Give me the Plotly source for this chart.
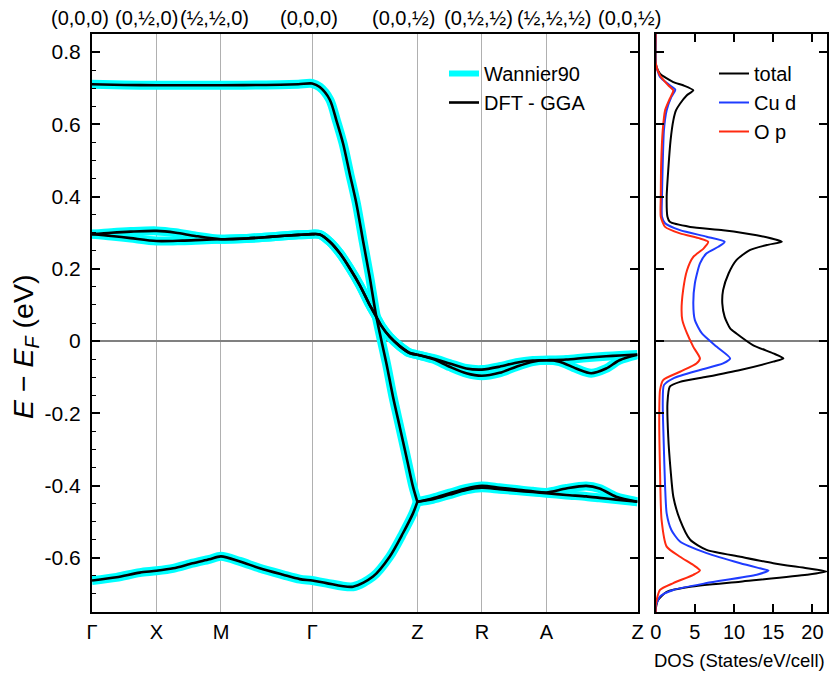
import plotly.graph_objects as go

# ---------------- data ----------------
kpath_pos = [0.0, 0.5, 1.0, 1.7071, 2.523, 3.023, 3.523, 4.230]
kpath_labels = ["Γ", "X", "M", "Γ", "Z", "R", "A", "Z"]
kpath_coords = ["(0,0,0)", "(0,½,0)", "(½,½,0)", "(0,0,0)", "(0,0,½)", "(0,½,½)", "(½,½,½)", "(0,0,½)"]

band1_k = [0.0, 0.25, 0.5, 0.75, 1.0, 1.35, 1.6, 1.7071,
           1.766, 1.844, 1.895, 1.947, 1.998, 2.050, 2.101, 2.153, 2.205, 2.283, 2.334, 2.386, 2.438, 2.489, 2.523,
           2.644, 2.773, 2.902, 3.023, 3.160, 3.290, 3.418, 3.523, 3.677, 3.832, 3.935, 4.064, 4.230]
band1_e = [0.711, 0.709, 0.708, 0.708, 0.708, 0.709, 0.711, 0.713,
           0.703, 0.668, 0.611, 0.547, 0.464, 0.381, 0.279, 0.178, 0.067, -0.062, -0.154, -0.237, -0.320, -0.403, -0.445,
           -0.435, -0.421, -0.408, -0.401, -0.406, -0.411, -0.416, -0.419, -0.408, -0.401, -0.408, -0.431, -0.445]

band2_k = [0.0, 0.19, 0.37, 0.5, 0.63, 0.78, 0.91, 1.0, 1.147, 1.301, 1.482, 1.611, 1.7071,
           1.818, 2.024, 2.179, 2.308, 2.411, 2.489, 2.523,
           2.644, 2.773, 2.902, 3.023, 3.160, 3.290, 3.418, 3.523, 3.677, 3.832, 3.935, 4.064, 4.230]
band2_e = [-0.663, -0.654, -0.641, -0.636, -0.629, -0.615, -0.604, -0.596, -0.610, -0.629, -0.647, -0.659, -0.663,
           -0.670, -0.680, -0.652, -0.597, -0.532, -0.477, -0.445,
           -0.438, -0.425, -0.412, -0.406, -0.410, -0.414, -0.418, -0.421, -0.426, -0.430, -0.434, -0.439, -0.445]

band3_k = [0.0, 0.15, 0.3, 0.5, 0.65, 0.8, 1.0, 1.2, 1.4, 1.6, 1.7071,
           1.766, 1.844, 1.922, 2.0, 2.076, 2.153, 2.205, 2.244, 2.308, 2.386, 2.463, 2.523,
           2.644, 2.773, 2.902, 3.023, 3.160, 3.290, 3.418, 3.523, 3.677, 3.832, 3.987, 4.090, 4.230]
band3_e = [0.296, 0.300, 0.303, 0.305, 0.300, 0.291, 0.282, 0.284, 0.289, 0.294, 0.296,
           0.295, 0.275, 0.243, 0.201, 0.155, 0.100, 0.067, 0.042, 0.012, -0.014, -0.033, -0.038,
           -0.048, -0.062, -0.076, -0.079, -0.071, -0.060, -0.054, -0.053, -0.051, -0.046, -0.042, -0.040, -0.037]

band4_k = [0.0, 0.15, 0.3, 0.5, 0.7, 0.85, 1.0, 1.2, 1.4, 1.6, 1.7071,
           1.766, 1.844, 1.922, 2.0, 2.076, 2.153, 2.205, 2.244, 2.308, 2.386, 2.463, 2.523,
           2.644, 2.773, 2.902, 3.023, 3.160, 3.290, 3.418, 3.523, 3.625, 3.754, 3.871, 3.987, 4.090, 4.230]
band4_e = [0.296, 0.291, 0.285, 0.277, 0.278, 0.280, 0.282, 0.284, 0.289, 0.294, 0.296,
           0.295, 0.275, 0.243, 0.201, 0.155, 0.100, 0.067, 0.042, 0.012, -0.014, -0.033, -0.038,
           -0.050, -0.071, -0.089, -0.096, -0.088, -0.071, -0.057, -0.053, -0.057, -0.076, -0.089, -0.076, -0.053, -0.038]

dos_total_e = [0.85, 0.77, 0.759, 0.740, 0.717, 0.708, 0.694, 0.680, 0.657, 0.639, 0.611, 0.556, 0.473, 0.399,
               0.344, 0.330, 0.316, 0.307, 0.293, 0.275, 0.266, 0.252, 0.224, 0.187, 0.141, 0.104, 0.067, 0.035,
               0.021, -0.011, -0.034, -0.048, -0.057, -0.080, -0.099, -0.113, -0.126, -0.172, -0.265, -0.357,
               -0.431, -0.495, -0.550, -0.578, -0.597, -0.615, -0.629, -0.638, -0.647, -0.666, -0.680, -0.694,
               -0.717, -0.744, -0.75]
dos_total = [0, 0, 0.1, 0.55, 2.25, 3.5, 4.8, 3.95, 3.1, 2.6, 2.25, 1.9, 1.6, 1.4,
             1.5, 1.8, 4.4, 8.6, 12.9, 16.1, 14.2, 12.0, 10.3, 9.3, 8.6, 8.5, 8.8, 9.5,
             10.3, 12.4, 15.0, 16.3, 15.0, 10.8, 6.5, 3.1, 1.8, 1.5, 1.6, 1.9,
             2.25, 3.1, 4.4, 6.5, 10.8, 15.0, 19.3, 21.8, 19.3, 10.8, 4.4, 1.4,
             0.3, 0, 0]

dos_cud_e = [0.85, 0.77, 0.731, 0.708, 0.696, 0.676, 0.639, 0.584, 0.492, 0.399, 0.344, 0.326, 0.307, 0.289,
             0.275, 0.261, 0.243, 0.215, 0.160, 0.104, 0.058, 0.021, -0.016, -0.048, -0.062, -0.080, -0.103,
             -0.122, -0.172, -0.265, -0.403, -0.477, -0.523, -0.555, -0.587, -0.615, -0.629, -0.635, -0.647,
             -0.670, -0.689, -0.707, -0.735, -0.75]
dos_cud = [0, 0, 0.55, 1.8, 2.5, 2.0, 1.4, 1.05, 0.9, 0.8, 0.8, 1.2, 3.1, 6.5,
           8.8, 8.0, 6.5, 5.65, 5.0, 4.8, 5.0, 5.9, 7.8, 9.5, 8.6, 5.65, 2.25,
           1.05, 0.9, 1.0, 1.2, 1.4, 2.0, 3.1, 6.5, 10.8, 13.3, 14.4, 12.9,
           6.5, 2.25, 0.55, 0, 0]

dos_op_e = [0.85, 0.77, 0.735, 0.708, 0.694, 0.671, 0.639, 0.584, 0.492, 0.399, 0.344, 0.316, 0.298, 0.284,
            0.275, 0.256, 0.233, 0.196, 0.141, 0.086, 0.058, 0.021, -0.016, -0.048, -0.062, -0.085, -0.108,
            -0.136, -0.219, -0.357, -0.495, -0.569, -0.597, -0.620, -0.635, -0.647, -0.670, -0.689, -0.73, -0.75]
dos_op = [0, 0, 0.55, 1.6, 2.25, 1.8, 1.2, 0.9, 0.7, 0.65, 0.65, 1.2, 3.1, 5.65,
          6.7, 6.1, 4.8, 4.0, 3.5, 3.3, 3.4, 4.0, 4.8, 5.65, 5.2, 3.1, 0.95,
          0.55, 0.45, 0.55, 0.75, 1.4, 3.1, 4.8, 5.65, 4.8, 2.25, 0.55, 0, 0]

ytick_vals = [-0.6, -0.4, -0.2, 0, 0.2, 0.4, 0.6, 0.8]
ytick_text = ["-0.6", "-0.4", "-0.2", "0", "0.2", "0.4", "0.6", "0.8"]
dos_tick_vals = [0, 5, 10, 15, 20]
dos_tick_text = ["0", "5", "10", "15", "20"]

# ---------------- style ----------------
FONT = "Liberation Sans, Arial, sans-serif"
CYAN = "#00ffff"
BLUE = "#1f3cff"
RED = "#ff2a10"
coord_xshift = [-12, -10, -6, -3, -14, -3, 8, -8]

W, H = 830, 673


def px(xp):
    return xp / W


def py(yp):
    return 1 - yp / H


fig = go.Figure()

bands = [(band1_k, band1_e), (band2_k, band2_e), (band3_k, band3_e), (band4_k, band4_e)]
z_split = kpath_pos[4]


def segments(k, e):
    i = k.index(z_split)
    return [(k[:i + 1], e[:i + 1]), (k[i:], e[i:])]


for k, e in bands:
    for ks, es in segments(k, e):
        fig.add_trace(go.Scatter(x=ks, y=es, mode="lines", line=dict(color=CYAN, width=9, shape="spline", smoothing=0.8),
                                 name="Wannier90", legendgroup="w90", showlegend=False, hoverinfo="skip"))
first = True
for k, e in bands:
    for ks, es in segments(k, e):
        fig.add_trace(go.Scatter(x=ks, y=es, mode="lines", line=dict(color="black", width=2.6, shape="spline", smoothing=0.8),
                                 name="DFT - GGA", legend="legend", showlegend=first, hoverinfo="skip",
                                 legendrank=2))
        first = False
# legend entry for the Wannier90 series (thinner symbol, as in the original legend)
fig.add_trace(go.Scatter(x=[None], y=[None], mode="lines", line=dict(color=CYAN, width=6),
                         name="Wannier90", legendgroup="w90", legend="legend", showlegend=True, legendrank=1))

# right-side ticks of band panel
fig.add_trace(go.Scatter(x=[None], y=[None], xaxis="x", yaxis="y3", showlegend=False, hoverinfo="skip"))

fig.add_trace(go.Scatter(x=dos_total, y=dos_total_e, mode="lines", name="total",
                         line=dict(color="black", width=2, shape="spline", smoothing=0.6),
                         xaxis="x2", yaxis="y2", legend="legend2"))
fig.add_trace(go.Scatter(x=dos_cud, y=dos_cud_e, mode="lines", name="Cu d",
                         line=dict(color=BLUE, width=2, shape="spline", smoothing=0.6),
                         xaxis="x2", yaxis="y2", legend="legend2"))
fig.add_trace(go.Scatter(x=dos_op, y=dos_op_e, mode="lines", name="O p",
                         line=dict(color=RED, width=2, shape="spline", smoothing=0.6),
                         xaxis="x2", yaxis="y2", legend="legend2"))

xdom1 = [px(92), px(637.5)]
xdom2 = [px(655.7), px(827.3)]
ydom = [py(612), py(34)]
yrange = [-0.75, 0.85]

annotations = []
for xv, txt, sh in zip(kpath_pos, kpath_coords, coord_xshift):
    annotations.append(dict(x=xv, y=py(18), xref="x", yref="paper", text=txt, showarrow=False,
                            xshift=sh, xanchor="center", yanchor="middle", font=dict(size=20, color="black", family=FONT)))
annotations.append(dict(x=px(25), y=py(347), xref="paper", yref="paper",
                        text="<i>E</i> − <i>E</i><sub><i>F</i></sub> (eV)", textangle=-90, showarrow=False,
                        xanchor="center", yanchor="middle", font=dict(size=28.5, color="black", family=FONT)))
annotations.append(dict(x=px(739), y=py(660), xref="paper", yref="paper",
                        text="DOS (States/eV/cell)", showarrow=False,
                        xanchor="center", yanchor="middle", font=dict(size=18.5, color="black", family=FONT)))

fig.update_layout(
    width=W, height=H,
    margin=dict(l=0, r=0, t=0, b=0),
    paper_bgcolor="white", plot_bgcolor="white",
    font=dict(family=FONT, color="black", size=19),
    xaxis=dict(domain=xdom1, range=[0, kpath_pos[-1]], tickmode="array", tickvals=kpath_pos, ticktext=kpath_labels,
               ticks="", showgrid=True, gridcolor="#b0b0b0", gridwidth=1, zeroline=False,
               showline=True, linecolor="black", linewidth=2, mirror=True, tickfont=dict(size=20),
               ticklabelstandoff=1, automargin=False, anchor="y"),
    yaxis=dict(domain=ydom, range=yrange, tickmode="array", tickvals=ytick_vals, ticktext=ytick_text,
               ticks="inside", ticklen=8, tickwidth=1.5, tickcolor="black",
               minor=dict(tickmode="linear", tick0=0, dtick=0.05, ticks="inside", ticklen=4, tickwidth=1, tickcolor="black"),
               showgrid=False, zeroline=True, zerolinecolor="#808080", zerolinewidth=1.5,
               showline=True, linecolor="black", linewidth=2, mirror=True, tickfont=dict(size=21),
               ticklabelstandoff=5, automargin=False, anchor="x"),
    yaxis3=dict(overlaying="y", side="right", anchor="x", range=yrange, tickmode="array", tickvals=ytick_vals,
                ticks="inside", ticklen=8, tickwidth=1.5, tickcolor="black", showticklabels=False,
                showgrid=False, zeroline=False, showline=False, automargin=False),
    xaxis2=dict(domain=xdom2, range=[0, 21.9], tickmode="array", tickvals=dos_tick_vals, ticktext=dos_tick_text,
                ticks="inside", ticklen=8, tickwidth=1.5, tickcolor="black", showgrid=False, zeroline=False,
                showline=True, linecolor="black", linewidth=2, mirror="ticks", tickfont=dict(size=20),
                ticklabelstandoff=1, automargin=False, anchor="y2"),
    yaxis2=dict(domain=ydom, range=yrange, tickmode="array", tickvals=ytick_vals, showticklabels=False,
                ticks="inside", ticklen=8, tickwidth=1.5, tickcolor="black", showgrid=False,
                zeroline=True, zerolinecolor="#808080", zerolinewidth=1.5,
                showline=True, linecolor="black", linewidth=2, mirror="ticks", automargin=False, anchor="x2"),
    legend=dict(x=px(444), y=py(54), xanchor="left", yanchor="top", bgcolor="rgba(0,0,0,0)",
                font=dict(size=20, family=FONT), tracegroupgap=0, traceorder="normal"),
    legend2=dict(x=px(714), y=py(54), xanchor="left", yanchor="top", bgcolor="rgba(0,0,0,0)",
                 font=dict(size=20, family=FONT), tracegroupgap=0),
    annotations=annotations,
    showlegend=True,
)

# remove the default 8px page margin so the 830x673 figure fills the window exactly
fig.write_html("out.html", config={"displayModeBar": False},
               post_script="document.body.style.margin='0px';document.body.style.overflow='hidden';")
